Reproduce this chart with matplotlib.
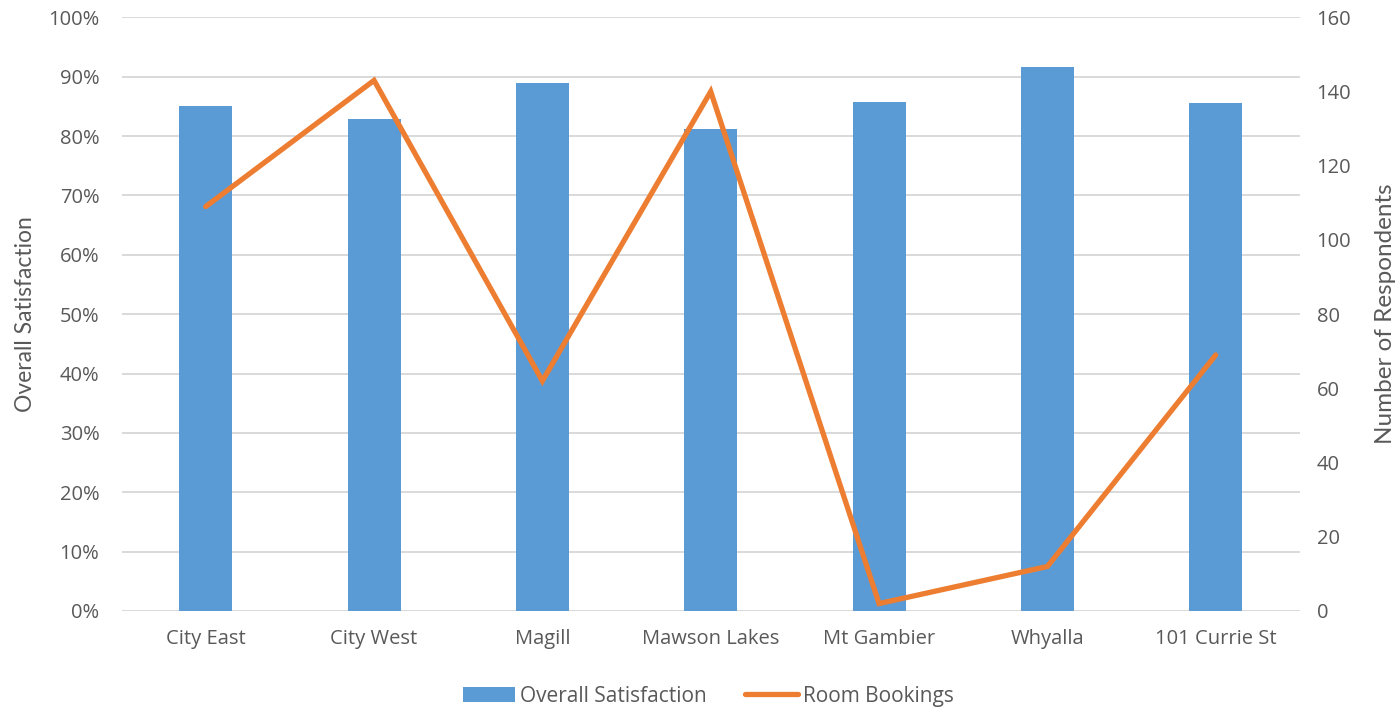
import matplotlib
matplotlib.use("Agg")
import matplotlib.pyplot as plt
from matplotlib.ticker import FuncFormatter, MultipleLocator
import numpy as np

campuses = ["City East", "City West", "Magill", "Mawson Lakes", "Mt Gambier", "Whyalla", "101 Currie St"]
satisfaction = [0.851, 0.828, 0.890, 0.812, 0.857, 0.917, 0.855]
room_bookings = [109, 143, 62, 140, 2, 12, 69]

BAR_COLOR = "#5B9BD5"
LINE_COLOR = "#ED7D31"
GRID_COLOR = "#D9D9D9"
TEXT_COLOR = "#595959"
FS = 14.5

plt.rcParams["font.family"] = ["Open Sans", "DejaVu Sans"]

fig = plt.figure(figsize=(13.97, 7.07), dpi=100)
ax = fig.add_axes([0.087, 0.1358, 0.8435, 0.8397])
ax2 = ax.twinx()

x = np.arange(len(campuses))
bars = ax.bar(x, satisfaction, width=0.315, color=BAR_COLOR, zorder=2,
              label="Overall Satisfaction")
line, = ax2.plot(x, room_bookings, color=LINE_COLOR, lw=3.8,
                 solid_capstyle="round", solid_joinstyle="miter",
                 label="Room Bookings", zorder=3)

ax.set_xlim(-0.5, len(campuses) - 0.5)
ax.set_ylim(0, 1.0)
ax2.set_ylim(0, 160)
ax.yaxis.set_major_locator(MultipleLocator(0.1))
ax.yaxis.set_major_formatter(FuncFormatter(lambda v, p: f"{v*100:.0f}%"))
ax2.yaxis.set_major_locator(MultipleLocator(20))

ax.grid(axis="y", color=GRID_COLOR, lw=1.4, zorder=0)
ax.set_axisbelow(True)

for a in (ax, ax2):
    for s in a.spines.values():
        s.set_visible(False)
    a.tick_params(length=0, colors=TEXT_COLOR, labelsize=FS)

ax.set_xticks(x)
ax.set_xticklabels(campuses, fontsize=FS, color=TEXT_COLOR)
ax.tick_params(axis="x", pad=13)
ax.tick_params(axis="y", pad=16)
ax2.tick_params(axis="y", pad=12)

ax.set_ylabel("Overall Satisfaction", fontsize=16.5, color=TEXT_COLOR,
              family=["Lato", "DejaVu Sans"], labelpad=9)
ax2.set_ylabel("Number of Respondents", fontsize=17.5, color=TEXT_COLOR,
               family=["Lato", "DejaVu Sans"], labelpad=17)

ax2.patch.set_visible(False)
ax.set_zorder(ax2.get_zorder() - 1)

fig.legend(handles=[bars, line], loc="center", bbox_to_anchor=(0.507, 0.015),
           ncol=2, frameon=False, fontsize=15, labelcolor=TEXT_COLOR,
           handlelength=2.5, handleheight=0.75, handletextpad=0.25,
           columnspacing=1.85, borderpad=0)

fig.savefig("out.png", dpi=100)
